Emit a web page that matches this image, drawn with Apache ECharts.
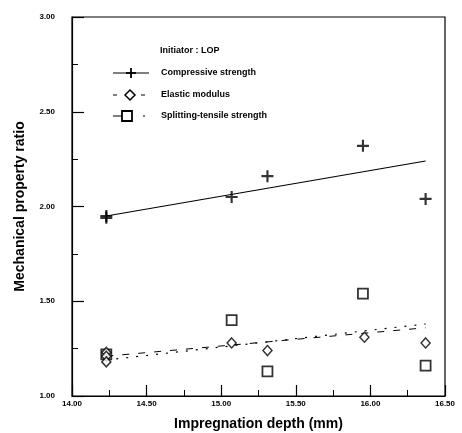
<!DOCTYPE html>
<html><head><meta charset="utf-8">
<script src="https://cdn.jsdelivr.net/npm/echarts@6/dist/echarts.min.js"></script>
<style>html,body{margin:0;padding:0;background:#fff}#c{width:462px;height:433px}</style>
</head><body><div id="c"></div>
<script>
const xTicks = [14.00, 14.50, 15.00, 15.50, 16.00, 16.50];
const yTicks = [1.00, 1.50, 2.00, 2.50, 3.00];
const compX = [14.23, 14.23, 15.07, 15.31, 15.95, 16.37];
const compY = [1.95, 1.94, 2.05, 2.16, 2.32, 2.04];
const elasX = [14.23, 14.23, 14.23, 15.07, 15.31, 15.96, 16.37];
const elasY = [1.23, 1.21, 1.18, 1.28, 1.24, 1.31, 1.28];
const splitX = [14.23, 15.07, 15.31, 15.95, 16.37];
const splitY = [1.22, 1.40, 1.13, 1.54, 1.16];
const compFitX = [14.23, 16.37], compFitY = [1.95, 2.24];
const elasFitX = [14.23, 16.37], elasFitY = [1.21, 1.36];
const splitFitX = [14.23, 16.37], splitFitY = [1.19, 1.38];

const zip = (a, b) => a.map((v, i) => [v, b[i]]);
const plusPath = 'path://M0,4.1H10V5.9H0ZM4.1,0H5.9V10H4.1Z';
const F = 'Arial, "Liberation Sans", sans-serif';

const chart = echarts.init(document.getElementById('c'));
chart.setOption({
  animation: false,
  grid: { left: 72, right: 17, top: 17, bottom: 37, show: true, borderColor: '#000', borderWidth: 1.2, outerBoundsMode: 'none', containLabel: false },
  xAxis: {
    type: 'value', min: xTicks[0], max: xTicks[xTicks.length - 1], interval: 0.5,
    name: 'Impregnation depth (mm)', nameLocation: 'middle', nameGap: 21,
    nameTextStyle: { fontFamily: F, fontWeight: 'bold', fontSize: 14, color: '#000' },
    axisLine: { lineStyle: { color: '#000', width: 1.2 } },
    axisTick: { inside: true, length: 11, lineStyle: { color: '#000', width: 1.2 } },
    minorTick: { show: true, splitNumber: 2, length: 6, lineStyle: { color: '#000', width: 1 } },
    axisLabel: { margin: 4, fontFamily: F, fontWeight: 'bold', fontSize: 8, color: '#000', formatter: v => v.toFixed(2) },
    splitLine: { show: false }
  },
  yAxis: {
    type: 'value', min: yTicks[0], max: yTicks[yTicks.length - 1], interval: 0.5,
    name: 'Mechanical property ratio', nameLocation: 'middle', nameGap: 45,
    nameTextStyle: { fontFamily: F, fontWeight: 'bold', fontSize: 14, color: '#000' },
    axisLine: { lineStyle: { color: '#000', width: 1.2 } },
    axisTick: { inside: true, length: 12, lineStyle: { color: '#000', width: 1.2 } },
    minorTick: { show: true, splitNumber: 2, length: 6, lineStyle: { color: '#000', width: 1 } },
    axisLabel: { margin: 17, fontFamily: F, fontWeight: 'bold', fontSize: 8, color: '#000', formatter: v => v.toFixed(2) },
    splitLine: { show: false }
  },
  series: [
    { type: 'line', data: zip(compFitX, compFitY), symbol: 'none', lineStyle: { color: '#000', width: 1.1 }, z: 1 },
    { type: 'line', data: zip(elasFitX, elasFitY), symbol: 'none', lineStyle: { color: '#000', width: 1, type: [7, 9] }, z: 1 },
    { type: 'line', data: zip(splitFitX, splitFitY), symbol: 'none', lineStyle: { color: '#000', width: 1.2, type: [2, 8] }, z: 1 },
    { name: 'Compressive strength', type: 'scatter', data: zip(compX, compY), symbol: plusPath, symbolSize: 12,
      itemStyle: { color: '#000' }, z: 3 },
    { name: 'Elastic modulus', type: 'scatter', data: zip(elasX, elasY), symbol: 'diamond', symbolSize: [9, 10],
      itemStyle: { color: '#fff', borderColor: '#000', borderWidth: 1.5 }, z: 3 },
    { name: 'Splitting-tensile strength', type: 'scatter', data: zip(splitX, splitY), symbol: 'rect', symbolSize: 10,
      itemStyle: { color: '#fff', borderColor: '#000', borderWidth: 1.8 }, z: 2 }
  ],
  graphic: [
    { type: 'text', x: 160, y: 46, style: { text: 'Initiator : LOP', font: 'bold 9px ' + F, fill: '#000' } },
    { type: 'line', shape: { x1: 113, y1: 73, x2: 149, y2: 73 }, style: { stroke: '#000', lineWidth: 1 } },
    { type: 'rect', shape: { x: 126, y: 72.1, width: 10, height: 1.8 }, style: { fill: '#000' } },
    { type: 'rect', shape: { x: 130.1, y: 68, width: 1.8, height: 10 }, style: { fill: '#000' } },
    { type: 'text', x: 161, y: 68, style: { text: 'Compressive strength', font: 'bold 9px ' + F, fill: '#000' } },
    { type: 'line', shape: { x1: 113, y1: 95, x2: 117, y2: 95 }, style: { stroke: '#000', lineWidth: 1 } },
    { type: 'polygon', shape: { points: [[130, 90], [135, 95], [130, 100], [125, 95]] }, style: { fill: '#fff', stroke: '#000', lineWidth: 1.5 } },
    { type: 'line', shape: { x1: 141, y1: 95, x2: 145, y2: 95 }, style: { stroke: '#000', lineWidth: 1 } },
    { type: 'text', x: 161, y: 90, style: { text: 'Elastic modulus', font: 'bold 9px ' + F, fill: '#000' } },
    { type: 'line', shape: { x1: 113, y1: 116, x2: 122, y2: 116 }, style: { stroke: '#000', lineWidth: 1 } },
    { type: 'rect', shape: { x: 122, y: 111, width: 10, height: 10 }, style: { fill: '#fff', stroke: '#000', lineWidth: 1.8 } },
    { type: 'line', shape: { x1: 143, y1: 116, x2: 145, y2: 116 }, style: { stroke: '#000', lineWidth: 1 } },
    { type: 'text', x: 161, y: 111, style: { text: 'Splitting-tensile strength', font: 'bold 9px ' + F, fill: '#000' } }
  ]
});
</script></body></html>
